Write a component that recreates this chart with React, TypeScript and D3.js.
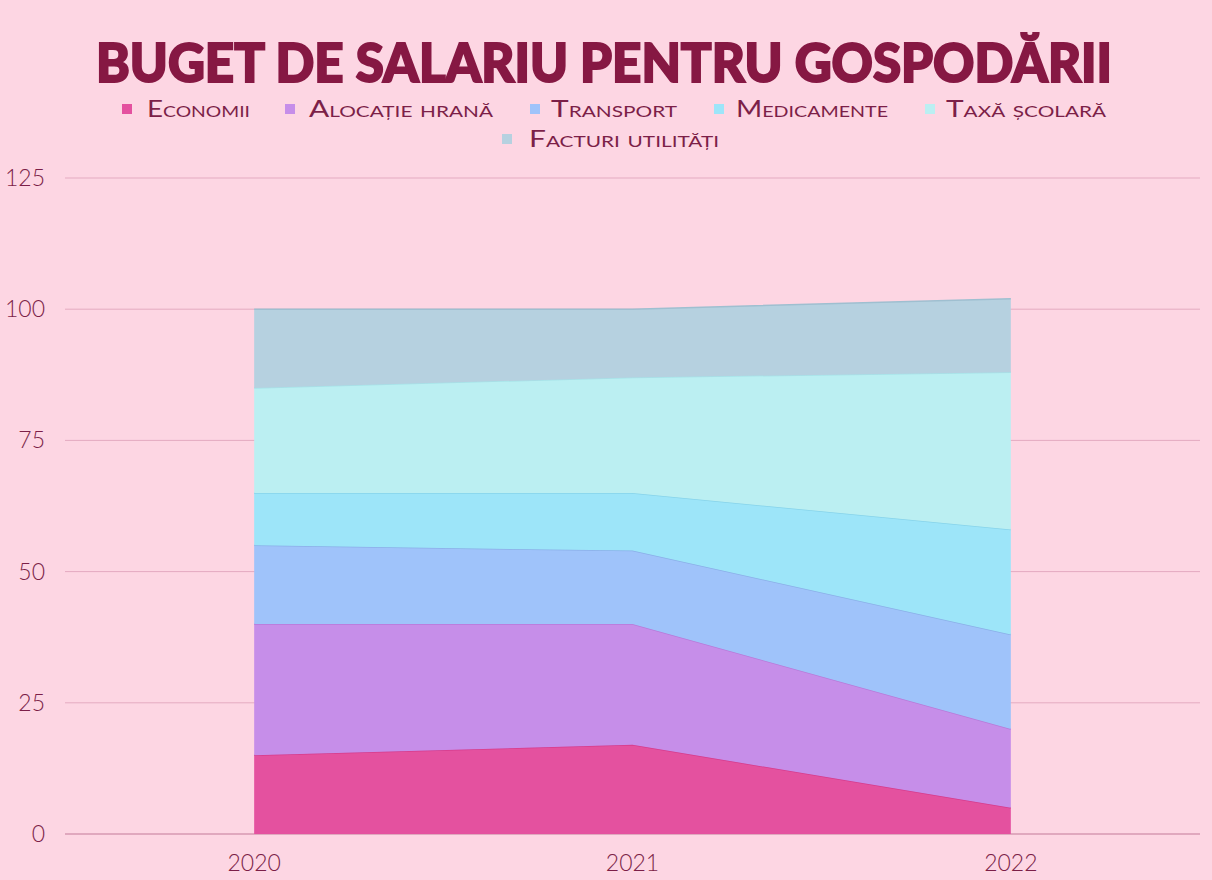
import React from "react";
import * as d3 from "d3";

const years = ["2020", "2021", "2022"];
const seriesNames = ["Economii", "Alocație hrană", "Transport", "Medicamente", "Taxă școlară", "Facturi utilități"];
const economii = [15, 17, 5];
const alocatie = [25, 23, 15];
const transport = [15, 14, 18];
const medicamente = [10, 11, 20];
const taxa = [20, 22, 30];
const facturi = [15, 13, 14];
const yTicks = [0, 25, 50, 75, 100, 125];
const colors = ["#e4519f", "#c68ee9", "#9fc3fa", "#9de5f9", "#bbeff2", "#b6d1e0"];
const strokeColors = ["#d63b8c", "#b77ad9", "#8aafe8", "#86d3ea", "#a6e2e8", "#9fbfd0"];

const W = 1212, H = 880;

export default function App() {
  const values = [economii, alocatie, transport, medicamente, taxa, facturi];
  const rows = years.map((y, i) => {
    const r: any = { year: y };
    seriesNames.forEach((s, k) => (r[s] = values[k][i]));
    return r;
  });
  const stacked = d3.stack().keys(seriesNames)(rows);
  const x = d3.scalePoint().domain(years).range([65, 1200]).padding(0.5);
  const y = d3.scaleLinear().domain([0, 125]).range([834, 178]);
  const area = d3.area<any>().x((d) => x(d.data.year)!).y0((d) => y(d[0])).y1((d) => y(d[1]));
  const topLine = d3.line<any>().x((d) => x(d.data.year)!).y((d) => y(d[1]));

  const legendLayout = [
    { i: 0, mx: 127, tx: 147, w: 103, ly: 110 },
    { i: 1, mx: 290, tx: 309, w: 184, ly: 110 },
    { i: 2, mx: 535, tx: 551, w: 126, ly: 110 },
    { i: 3, mx: 719, tx: 736, w: 152, ly: 110 },
    { i: 4, mx: 930, tx: 946, w: 160, ly: 110 },
    { i: 5, mx: 507, tx: 529, w: 190, ly: 140 },
  ];

  return (
    <svg width={W} height={H} style={{ position: "absolute", left: 0, top: 0 }}>
      <rect width={W} height={H} fill="#fdd6e3" />
      <text
        x={604}
        y={82}
        textAnchor="middle"
        fontFamily="Lato, 'Open Sans', sans-serif"
        fontWeight={900}
        fontSize={54}
        fill="#861843"
        stroke="#861843"
        strokeWidth={2}
        textLength={1016}
        lengthAdjust="spacingAndGlyphs"
      >
        BUGET DE SALARIU PENTRU GOSPODĂRII
      </text>
      {legendLayout.map((l) => (
        <g key={l.i}>
          <rect x={l.mx - 5} y={l.ly - 6} width={10} height={10} fill={colors[l.i]} />
          <text
            x={l.tx}
            y={l.ly + 7}
            fontFamily="Lato, 'Noto Sans', sans-serif"
            fontSize={23}
            fill="#7c1f48"
            textLength={l.w}
            lengthAdjust="spacingAndGlyphs"
            style={{ fontVariant: "small-caps" }}
          >
            {seriesNames[l.i]}
          </text>
        </g>
      ))}
      {yTicks.map((t) => (
        <g key={t}>
          <line x1={65} x2={1200} y1={y(t)} y2={y(t)} stroke={t === 0 ? "#d699b2" : "#e4abc1"} strokeWidth={t === 0 ? 1.5 : 1} />
          <text
            x={45}
            y={y(t) + 8}
            textAnchor="end"
            fontFamily="Lato, 'Noto Sans', sans-serif"
            fontWeight={300}
            fontSize={23}
            fill="#7c1f48"
          >
            {t}
          </text>
        </g>
      ))}
      {stacked.map((s, k) => (
        <g key={k}>
          <path d={area(s as any)!} fill={colors[k]} />
          <path d={topLine(s as any)!} fill="none" stroke={strokeColors[k]} strokeWidth={1.5} />
        </g>
      ))}
      {years.map((yr) => (
        <text
          key={yr}
          x={x(yr)}
          y={871}
          textAnchor="middle"
          fontFamily="Lato, 'Noto Sans', sans-serif"
          fontWeight={300}
          fontSize={23}
          fill="#7c1f48"
        >
          {yr}
        </text>
      ))}
    </svg>
  );
}
